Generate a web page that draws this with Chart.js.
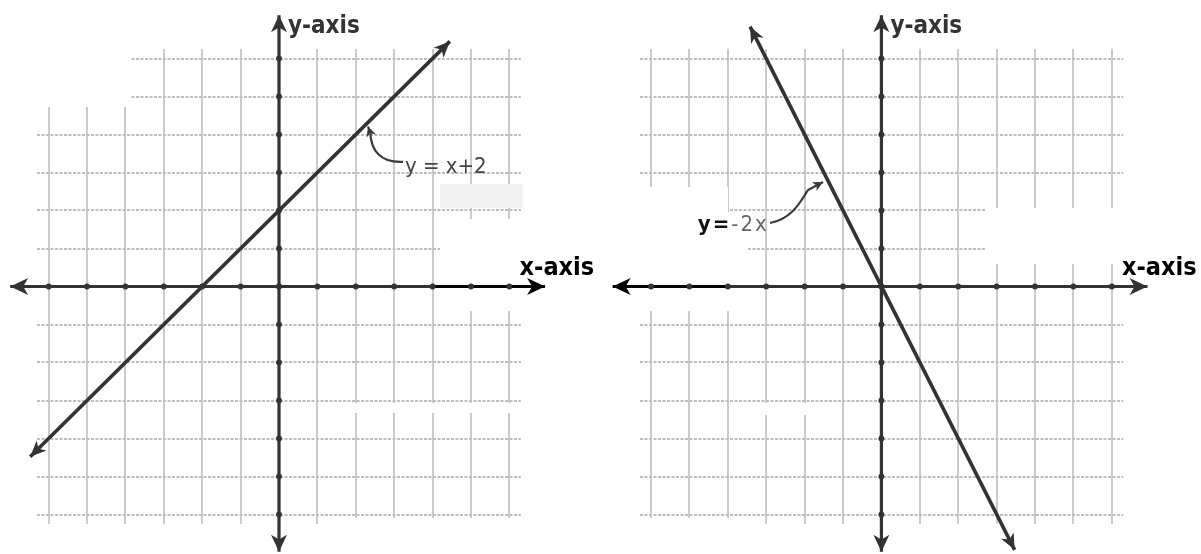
<!DOCTYPE html>
<html>
<head>
<meta charset="utf-8">
<script src="https://cdn.jsdelivr.net/npm/chart.js@4.4.1/dist/chart.umd.min.js"></script>
<style>
  html, body { margin:0; padding:0; background:#fff; }
  #wrap { position:relative; width:1201px; height:554px; overflow:hidden; }
  canvas { position:absolute; top:0; }
  #left { left:0; }
  #right { left:600px; }
</style>
</head>
<body>
<div id="wrap">
  <canvas id="left" width="600" height="554"></canvas>
  <canvas id="right" width="601" height="554"></canvas>
</div>
<script>
// grid / tick values (both graphs share the same grid)
const gridTicks = [-6, -5, -4, -3, -2, -1, 0, 1, 2, 3, 4, 5, 6];
const xAxisEnds = [-7.0, 6.93];
const yAxisEnds = [-6.98, 7.14];
const axisNames = ["x-axis", "y-axis"];

// graph 1: y = x + 2
const line1X = [-6.48, 4.45];
const line1Y = [-4.48, 6.45];
const line1Label = "y = x+2";

// graph 2: y = -2x
const line2X = [-3.42, 3.47];
const line2Y = [6.84, -6.93];
const line2Label = ["y=", "-2x"];

const INK = "#333";
const FONT = '"DejaVu Sans Condensed", "DejaVu Sans", sans-serif';

const toPts = (xs, ys) => xs.map((x, i) => ({ x, y: ys[i] }));

function drawHead(ctx, from, tip, len, hw, color) {
  const ang = Math.atan2(tip.y - from.y, tip.x - from.x);
  ctx.save();
  ctx.translate(tip.x, tip.y);
  ctx.rotate(ang);
  ctx.beginPath();
  ctx.moveTo(0, 0);
  ctx.lineTo(-len, -hw);
  ctx.lineTo(-len * 0.72, 0);
  ctx.lineTo(-len, hw);
  ctx.closePath();
  ctx.fillStyle = color;
  ctx.fill();
  ctx.restore();
}

// arrow heads on both ends of every dataset that asks for them
const arrowPlugin = {
  id: "arrows",
  afterDatasetsDraw(chart) {
    const ctx = chart.ctx;
    chart.data.datasets.forEach((ds, i) => {
      if (!ds.arrow) return;
      const pts = chart.getDatasetMeta(i).data;
      const n = pts.length;
      const [len, hw] = ds.arrow;
      const cols = ds.headColors || [ds.borderColor, ds.borderColor];
      drawHead(ctx, pts[1], pts[0], len, hw, cols[0]);
      drawHead(ctx, pts[n - 2], pts[n - 1], len, hw, cols[1]);
    });
  }
};

// white / grey scan patches over the grid
function patchPlugin(rects) {
  return {
    id: "patches",
    beforeDatasetsDraw(chart) {
      const ctx = chart.ctx;
      ctx.save();
      rects.forEach(r => { ctx.fillStyle = r.c || "#fff"; ctx.fillRect(r.x, r.y, r.w, r.h); });
      ctx.restore();
    }
  };
}

// axis names + callout with curved arrow
function labelPlugin(cfg) {
  return {
    id: "labels",
    afterDraw(chart) {
      const { ctx } = chart;
      const xs = chart.scales.x, ys = chart.scales.y;
      const X = v => xs.getPixelForValue(v), Y = v => ys.getPixelForValue(v);
      ctx.save();
      ctx.textBaseline = "alphabetic";
      ctx.textAlign = "left";
      // y-axis name
      ctx.font = `bold 24px ${FONT}`;
      ctx.fillStyle = INK;
      ctx.fillText(axisNames[1], X(0) + 9, Y(yAxisEnds[1]) + 18);
      // x-axis name
      ctx.font = `bold 25px ${FONT}`;
      ctx.fillStyle = "#000";
      ctx.fillText(axisNames[0], X(xAxisEnds[1]) - 25.5, Y(0) - 12);

      // callout curve
      const c = cfg.curve.map(p => ({ x: X(p[0]), y: Y(p[1]) }));
      ctx.strokeStyle = "#3a3a3a";
      ctx.lineWidth = 2.2;
      ctx.beginPath();
      ctx.moveTo(c[0].x, c[0].y);
      ctx.bezierCurveTo(c[1].x, c[1].y, c[2].x, c[2].y, c[3].x, c[3].y);
      ctx.stroke();
      const tip = { x: X(cfg.tip[0]), y: Y(cfg.tip[1]) };
      ctx.beginPath();
      ctx.moveTo(c[3].x, c[3].y);
      ctx.lineTo(tip.x, tip.y);
      ctx.stroke();
      drawHead(ctx, c[3], tip, 10, 5, "#3a3a3a");

      // callout text
      let tx = X(cfg.text[0]);
      const ty = Y(cfg.text[1]);
      ctx.letterSpacing = cfg.spacing || "0px";
      cfg.parts.forEach(p => {
        ctx.font = p.font;
        ctx.fillStyle = p.color;
        ctx.fillText(p.s, tx, ty);
        tx += ctx.measureText(p.s).width;
      });
      ctx.restore();
    }
  };
}

function axisSets(blackX) {
  const ax = [xAxisEnds[0], ...gridTicks, xAxisEnds[1]].map(v => ({ x: v, y: 0 }));
  const ay = [yAxisEnds[0], ...gridTicks, yAxisEnds[1]].map(v => ({ x: 0, y: v }));
  const dot = (c) => {
    const n = c.dataset.data.length;
    return (c.dataIndex === 0 || c.dataIndex === n - 1) ? 0 : 2.9;
  };
  return [
    {
      data: ax, showLine: true, borderColor: INK, backgroundColor: INK, borderWidth: 3.2,
      pointRadius: dot, pointBorderWidth: 0, clip: false, arrow: [18, 8.5],
      headColors: [blackX[0] < -6 ? "#000" : INK, blackX[1] > 6 ? "#000" : INK],
      segment: { borderColor: s => (s.p0.parsed.x >= blackX[0] && s.p1.parsed.x <= blackX[1]) ? "#000" : INK },
      order: 2
    },
    {
      data: ay, showLine: true, borderColor: INK, backgroundColor: INK, borderWidth: 3.2,
      pointRadius: dot, pointBorderWidth: 0, clip: false, arrow: [17, 8], order: 2
    }
  ];
}

function makeGraph(id, lineData, pad, blackX, patches, callout) {
  const gridScale = (color, dash) => ({
    type: "linear", min: -6.25, max: 6.25,
    afterBuildTicks: s => { s.ticks = gridTicks.map(v => ({ value: v })); },
    ticks: { display: false },
    grid: { color, lineWidth: 2, drawTicks: false },
    border: { display: false, dash }
  });
  const xs = gridScale("#cbcbcb", []);
  xs.min = -6.3; xs.max = 6.3;
  return new Chart(document.getElementById(id), {
    type: "scatter",
    data: {
      datasets: [
        ...axisSets(blackX),
        {
          data: lineData, showLine: true, borderColor: INK, borderWidth: 3.6,
          pointRadius: 0, clip: false, arrow: [16, 7], order: 1
        }
      ]
    },
    options: {
      responsive: false,
      animation: false,
      events: [],
      layout: { padding: pad },
      plugins: { legend: { display: false }, tooltip: { enabled: false } },
      scales: { x: xs, y: gridScale("#bdbdbd", [3, 1.5]) }
    },
    plugins: [patchPlugin(patches), arrowPlugin, labelPlugin(callout)]
  });
}

makeGraph("left", toPts(line1X, line1Y),
  { left: 37.1, right: 79.1, top: 49, bottom: 30 },
  [4, 99],
  [
    { x: 0, y: 0, w: 131, h: 107 },
    { x: 440, y: 184, w: 83, h: 24, c: "#f1f1f1" },
    { x: 440, y: 219, w: 160, h: 92 },
    { x: 338, y: 403, w: 185, h: 10 },
    { x: 338, y: 518, w: 262, h: 36 }
  ],
  {
    curve: [[3.23, 3.28], [2.63, 3.25], [2.4, 3.59], [2.38, 4.03]],
    tip: [2.32, 4.21],
    text: [3.28, 2.99],
    parts: [{ s: line1Label, font: `22px ${FONT}`, color: "#444" }]
  });

makeGraph("right", toPts(line2X, line2Y),
  { left: 39.5, right: 77.7, top: 49, bottom: 30 },
  [-99, -4],
  [
    { x: 0, y: 187, w: 128, h: 26 },
    { x: 0, y: 212, w: 147, h: 99 },
    { x: 385, y: 208, w: 216, h: 56 },
    { x: 148, y: 403, w: 94, h: 12 },
    { x: 0, y: 518, w: 148, h: 36 }
  ],
  {
    curve: [[-2.9, 1.67], [-2.3, 1.8], [-2.1, 2.25], [-1.91, 2.54]],
    tip: [-1.52, 2.75],
    text: [-4.78, 1.46],
    spacing: "2px",
    parts: [
      { s: line2Label[0], font: `bold 22px ${FONT}`, color: "#111" },
      { s: line2Label[1], font: `22px ${FONT}`, color: "#666" }
    ]
  });
</script>
</body>
</html>
